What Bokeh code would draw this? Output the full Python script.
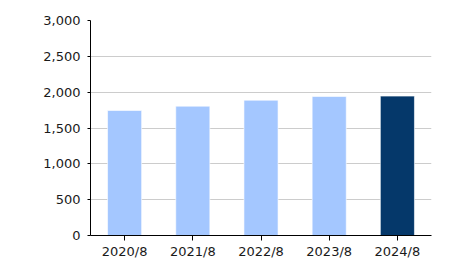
from bokeh.plotting import figure
from bokeh.models import ColumnDataSource, NumeralTickFormatter, FixedTicker, Range1d
from bokeh.embed import file_html
from bokeh.resources import INLINE

categories = ["2020/8", "2021/8", "2022/8", "2023/8", "2024/8"]
values = [1745, 1805, 1888, 1940, 1945]
colors = ["#a4c7ff", "#a4c7ff", "#a4c7ff", "#a4c7ff", "#05386a"]
y_ticks = [0, 500, 1000, 1500, 2000, 2500, 3000]

src = ColumnDataSource(dict(cat=categories, val=values, color=colors))

p = figure(x_range=categories, width=450, height=265, output_backend="svg",
           toolbar_location=None, min_border_left=90, min_border_right=19,
           min_border_top=20, min_border_bottom=30)
p.y_range = Range1d(0, 3000)
p.vbar(x="cat", top="val", width=0.5, fill_color="color", line_color="white",
       line_alpha=0.6, line_width=1, source=src)

p.outline_line_color = None
p.xgrid.grid_line_color = None
p.ygrid.grid_line_color = "#cccccc"
p.ygrid.grid_line_width = 1
p.ygrid.ticker = FixedTicker(ticks=y_ticks)
p.yaxis.ticker = FixedTicker(ticks=y_ticks)
p.yaxis.formatter = NumeralTickFormatter(format="0,0")
p.yaxis.minor_tick_line_color = None
p.yaxis.major_tick_in = 0
p.yaxis.major_tick_out = 3
p.xaxis.major_tick_in = 0
p.xaxis.major_tick_out = 5
for ax in (p.xaxis, p.yaxis):
    ax.axis_line_color = "black"
    ax.major_tick_line_color = "black"
    ax.major_label_text_font = "DejaVu Sans"
    ax.major_label_text_font_size = "13px"
    ax.major_label_text_color = "#1a1a1a"
p.yaxis.major_label_standoff = 7
p.xaxis.major_label_standoff = 3
p.x_range.range_padding = 0

open("out.html", "w").write(file_html(p, INLINE))
